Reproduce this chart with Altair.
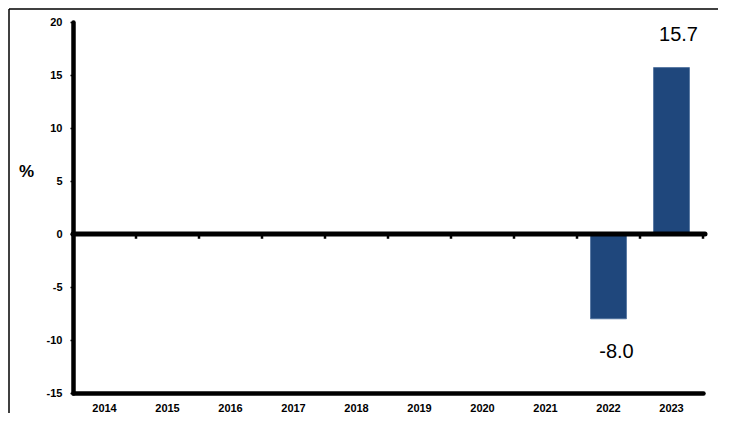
import altair as alt
import pandas as pd

years = ["2014", "2015", "2016", "2017", "2018", "2019", "2020", "2021", "2022", "2023"]
values = [None, None, None, None, None, None, None, None, -8.0, 15.7]
y_ticks = [-15, -10, -5, 0, 5, 10, 15, 20]

df = pd.DataFrame({"year": years, "value": values})

FONT = "Liberation Sans"
W, H = 630, 371

x_enc = alt.X(
    "year:N",
    sort=years,
    scale=alt.Scale(domain=years, paddingInner=0, paddingOuter=0),
    axis=alt.Axis(
        title=None, labelAngle=0, ticks=False, domainWidth=4.5, domainColor="black",
        domainCap="round", labelFont=FONT, labelFontWeight="bold", labelFontSize=11,
        labelColor="black", labelPadding=9,
    ),
)
y_scale = alt.Scale(domain=[-15, 20], nice=False, zero=False)
y_enc = alt.Y(
    "value:Q",
    scale=y_scale,
    axis=alt.Axis(
        values=y_ticks, grid=False, domainWidth=4.5, domainColor="black", domainCap="round",
        tickSize=3, tickWidth=1.5, tickColor="black", labelFont=FONT, labelFontWeight="bold",
        labelFontSize=11, labelColor="black", labelPadding=8,
        labelExpr="toString(datum.value)",
        title="%", titleAngle=0, titleX=-47, titleY=149, titleFont=FONT, titleFontSize=17,
        titleFontWeight="bold", titleAlign="center", titleBaseline="middle", titleColor="black",
    ),
)

base = alt.Chart(df)

bars = base.mark_bar(
    color="#1f477c", width=alt.RelativeBandSize(0.57), stroke="#4a6d9c", strokeWidth=0.8
).transform_filter("datum.value != null").encode(x=x_enc, y=y_enc)

zero_line = alt.Chart(pd.DataFrame({"z": [0]})).mark_rule(
    color="black", strokeWidth=5, strokeCap="round"
).encode(x=alt.value(0), x2=alt.value(632), y=alt.Y("z:Q", scale=y_scale))

zero_ticks = base.mark_rule(color="black", strokeWidth=2.5).encode(
    x=alt.X("year:N", sort=years, bandPosition=1),
    y=alt.YDatum(0),
    y2=alt.Y2Datum(-0.45),
)

label_calc = "replace(format(datum.value, '.1f'), '\u2212', '-')"

labels_pos = base.transform_filter("datum.value > 0").transform_calculate(
    lbl=label_calc
).mark_text(
    font=FONT, fontSize=20, color="black", dy=-33, dx=7, baseline="middle"
).encode(x=alt.X("year:N", sort=years), y=alt.Y("value:Q"), text="lbl:N")

labels_neg = base.transform_filter("datum.value < 0").transform_calculate(
    lbl=label_calc
).mark_text(
    font=FONT, fontSize=20, color="black", dy=33, dx=8, baseline="middle"
).encode(x=alt.X("year:N", sort=years), y=alt.Y("value:Q"), text="lbl:N")

frame = alt.Chart(pd.DataFrame({"f": [0]}))
frame_left = frame.mark_rule(color="black", strokeWidth=1.5).encode(
    x=alt.value(-64), y=alt.value(-13), y2=alt.value(400)
)
frame_top = frame.mark_rule(color="black", strokeWidth=1.5).encode(
    x=alt.value(-64), x2=alt.value(660), y=alt.value(-13)
)

chart = alt.layer(
    frame_left, frame_top, bars, zero_ticks, zero_line, labels_pos, labels_neg
).properties(
    width=W, height=H,
    autosize=alt.AutoSizeParams(type="none"),
    padding={"left": 65, "top": 14, "right": 15, "bottom": 20},
    background="white",
).configure_view(stroke=None)

chart.save("out.html", embed_options={"renderer": "svg", "actions": False})
